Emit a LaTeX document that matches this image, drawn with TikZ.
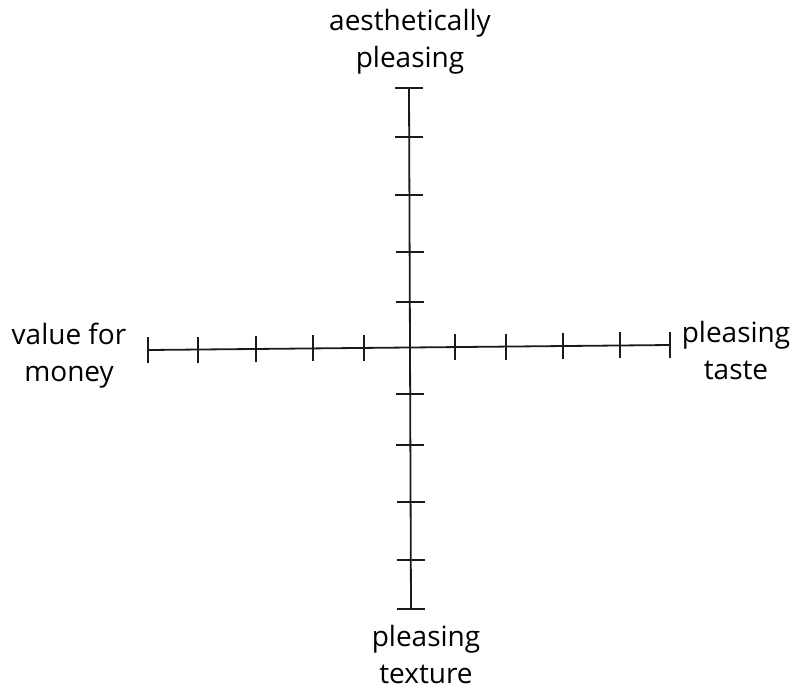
\documentclass[tikz,border=0pt]{standalone}
\usepackage{fontspec}
\setmainfont{Open Sans}
\usetikzlibrary{calc}
\definecolor{axisink}{HTML}{1A1A1A}

\begin{document}
\begin{tikzpicture}[x=1pt, y=-1pt,
    axisline/.style={line width=1.8pt, axisink},
    tickline/.style={line width=1.6pt, axisink},
    axislabel/.style={font=\fontsize{28}{37}\selectfont, align=center, inner sep=0pt}]
  \useasboundingbox (0,0) rectangle (804,689);

  % Axis ends
  \coordinate (west) at (148,350);
  \coordinate (east) at (670,345);
  \coordinate (north) at (409,88);
  \coordinate (south) at (411,609);

  % Axes
  \draw[axisline] (west) -- (east);
  \draw[axisline] (north) -- (south);

  % Ticks on the horizontal axis
  \foreach \t in {0, 0.096, 0.207, 0.316, 0.414, 0.588, 0.686, 0.795, 0.904, 1}
    \draw[tickline] ($(west)!\t!(east)+(0,-13)$) -- ($(west)!\t!(east)+(0,13)$);

  % Ticks on the vertical axis
  \foreach \t in {0, 0.094, 0.205, 0.315, 0.411, 0.587, 0.685, 0.795, 0.906, 1}
    \draw[tickline] ($(north)!\t!(south)+(-14,0)$) -- ($(north)!\t!(south)+(14,0)$);

  % Labels
  \node[axislabel] (lblnorth) at (410,42) {aesthetically\\pleasing};
  \node[axislabel] (lblwest) at (69,356) {value for\\money};
  \node[axislabel] (lbleast) at (736,350) {pleasing\\taste};
  \node[axislabel] (lblsouth) at (426,654) {pleasing\\texture};
\end{tikzpicture}
\end{document}
